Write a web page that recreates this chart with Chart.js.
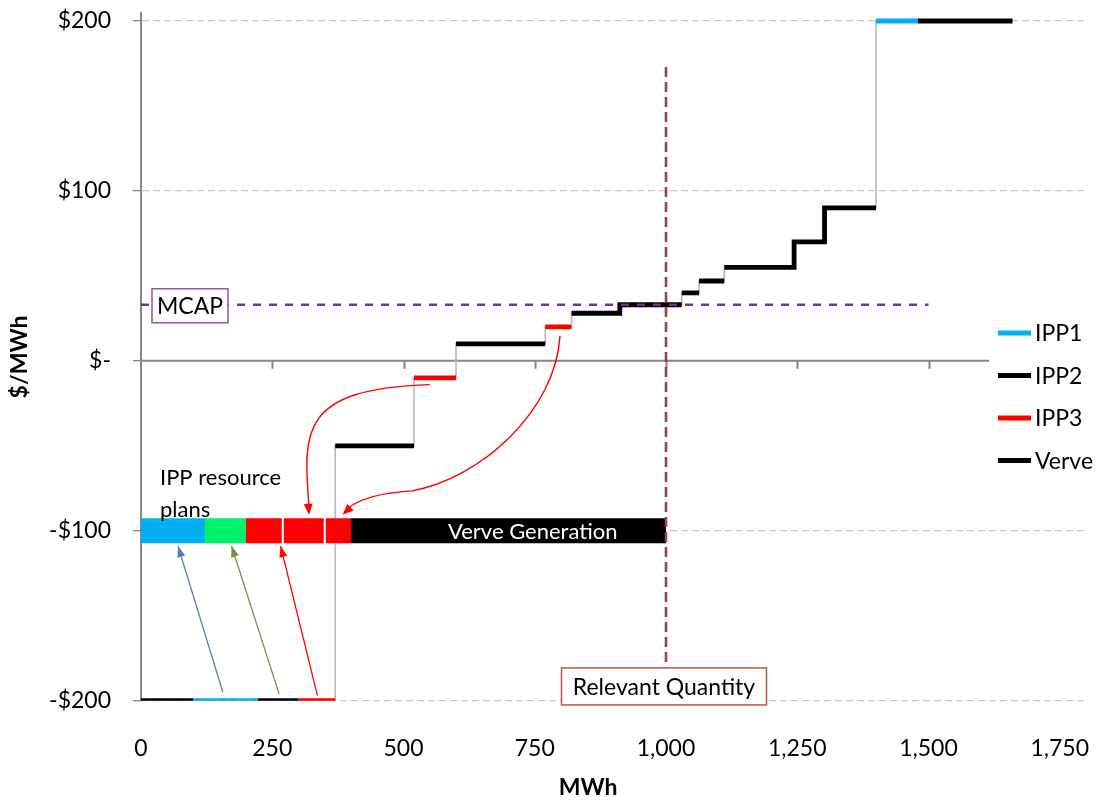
<!DOCTYPE html>
<html>
<head>
<meta charset="utf-8">
<title>Offer stack</title>
<script src="https://cdn.jsdelivr.net/npm/chart.js@4"></script>
<style>
  html, body { margin: 0; padding: 0; background: #fff; }
</style>
</head>
<body>
<canvas id="chart" width="1097" height="800"></canvas>
<script>
// offer blocks, in merit order (MWh, $/MWh)
const blockFrom  = [0, 100, 222, 300, 370, 520, 600, 770, 820, 912, 1030, 1063, 1111, 1244, 1302, 1400, 1480];
const blockTo    = [100, 222, 300, 370, 520, 600, 770, 820, 912, 1030, 1063, 1111, 1244, 1302, 1400, 1480, 1660];
const blockPrice = [-200, -200, -200, -200, -50, -10, 10, 20, 28, 33, 40, 47, 55, 70, 90, 200, 200];
const blockOwner = ['Verve', 'IPP1', 'IPP2', 'IPP3', 'Verve', 'IPP3', 'Verve', 'IPP3', 'Verve', 'Verve',
                    'IPP2', 'IPP2', 'Verve', 'Verve', 'Verve', 'IPP1', 'IPP2'];

// the resource plan bar drawn at -$100
const planEdges = [0, 122, 200, 270, 350, 400, 1000];
const planOwner = ['IPP1', 'IPP2plan', 'IPP3', 'IPP3', 'IPP3', 'Verve'];
const planPrice = -100;

const seriesNames = ['IPP1', 'IPP2', 'IPP3', 'Verve'];
const mcapPrice = 33;
const mcapEnd = 1500;
const relevantQty = 1000;
const rqTop = 173;
const rqBottom = -181;

const xTicks = [0, 250, 500, 750, 1000, 1250, 1500, 1750];
const yTicks = [-200, -100, 0, 100, 200];

const colors = { IPP1: '#00B0F0', IPP2: '#000000', IPP2plan: '#00F26D', IPP3: '#FF0000', Verve: '#000000' };
const FONT = 'Lato, "Open Sans", sans-serif';

function seriesPoints(owner) {
  const pts = [];
  for (let i = 0; i < blockFrom.length; i++) {
    if (blockOwner[i] !== owner) continue;
    const last = pts[pts.length - 1];
    // Verve blocks that touch are drawn as one stepped line
    if (last && !(owner === 'Verve' && last.x === blockFrom[i])) pts.push({ x: last.x, y: null });
    pts.push({ x: blockFrom[i], y: blockPrice[i] }, { x: blockTo[i], y: blockPrice[i] });
  }
  return pts;
}

const supplyCurve = [];
blockFrom.forEach((f, i) => {
  supplyCurve.push({ x: f, y: blockPrice[i] }, { x: blockTo[i], y: blockPrice[i] });
});

const datasets = seriesNames.map((name, i) => ({
  label: name,
  data: seriesPoints(name),
  borderColor: colors[name],
  borderWidth: 4.8,
  borderCapStyle: 'butt',
  borderJoinStyle: 'miter',
  pointRadius: 0,
  spanGaps: false,
  order: 2 + i
}));

datasets.push({
  label: 'curve',
  data: supplyCurve,
  borderColor: '#B8B8B8',
  borderWidth: 1.6,
  pointRadius: 0,
  order: 20
});

datasets.push({
  label: 'plans',
  data: planEdges.map(x => ({ x: x, y: planPrice })),
  borderWidth: 25,
  borderCapStyle: 'butt',
  borderColor: colors.IPP1,
  segment: { borderColor: ctx => colors[planOwner[ctx.p0DataIndex]] },
  pointRadius: 0,
  order: 10
});

datasets.push({
  label: 'MCAP',
  data: [{ x: 0, y: mcapPrice }, { x: mcapEnd, y: mcapPrice }],
  borderColor: '#7030A0',
  borderWidth: 2.6,
  borderDash: [8, 8],
  pointRadius: 0,
  order: 1
});

datasets.push({
  label: 'Relevant Quantity',
  data: [{ x: relevantQty, y: rqTop }, { x: relevantQty, y: rqBottom }],
  borderColor: '#A0403F',
  borderWidth: 2.6,
  borderDash: [10, 5],
  pointRadius: 0,
  order: 0
});

function fmtPrice(v) {
  if (v === 0) return '$-';
  return v < 0 ? '-$' + Math.abs(v) : '$' + v;
}

function arrowHead(ctx, fx, fy, tx, ty, len, wid, color) {
  const a = Math.atan2(ty - fy, tx - fx);
  ctx.save();
  ctx.fillStyle = color;
  ctx.beginPath();
  ctx.moveTo(tx, ty);
  ctx.lineTo(tx - len * Math.cos(a) + wid / 2 * Math.sin(a), ty - len * Math.sin(a) - wid / 2 * Math.cos(a));
  ctx.lineTo(tx - len * Math.cos(a) - wid / 2 * Math.sin(a), ty - len * Math.sin(a) + wid / 2 * Math.cos(a));
  ctx.closePath();
  ctx.fill();
  ctx.restore();
}

function boxLabel(ctx, text, cx, cy, w, h, border) {
  ctx.save();
  ctx.fillStyle = '#fff';
  ctx.fillRect(cx - w / 2, cy - h / 2, w, h);
  ctx.strokeStyle = border;
  ctx.lineWidth = 1.5;
  ctx.strokeRect(cx - w / 2, cy - h / 2, w, h);
  ctx.fillStyle = '#000';
  ctx.font = '23px ' + FONT;
  ctx.textAlign = 'center';
  ctx.textBaseline = 'middle';
  ctx.fillText(text, cx, cy + 1);
  ctx.restore();
}

const noPad = s => { s.paddingTop = 0; s.paddingBottom = 0; s.paddingLeft = 0; s.paddingRight = 0; };

const decor = {
  id: 'decor',
  beforeDatasetsDraw(chart) {
    const { ctx, chartArea: a, scales: { x, y } } = chart;
    const y0 = y.getPixelForValue(0);
    ctx.save();
    ctx.strokeStyle = '#868686';
    ctx.lineWidth = 2;
    ctx.beginPath();
    ctx.moveTo(a.left, y0);
    ctx.lineTo(a.right, y0);
    xTicks.forEach(v => {
      if (v === 0) return;
      const px = Math.round(x.getPixelForValue(v)) + 0.5;
      ctx.moveTo(px, y0);
      ctx.lineTo(px, y0 + 8);
    });
    ctx.stroke();
    ctx.restore();
  },
  afterDatasetsDraw(chart) {
    const { ctx, scales: { x, y } } = chart;
    const P = (mx, my) => [x.getPixelForValue(mx), y.getPixelForValue(my)];

    // white gaps between the IPP3 pieces of the plan bar
    ctx.save();
    ctx.strokeStyle = '#fff';
    ctx.lineWidth = 2;
    [planEdges[3], planEdges[4]].forEach(v => {
      const [px, py] = P(v, planPrice);
      ctx.beginPath();
      ctx.moveTo(px, py - 13);
      ctx.lineTo(px, py + 13);
      ctx.stroke();
    });
    ctx.restore();

    // straight arrows from the low blocks up to the plan bar
    const straight = [
      [[156, -195], [70.5, -109], '#4F81BD'],
      [[263, -196], [172.5, -109], '#77933C'],
      [[336, -197], [266, -109], '#FF0000']
    ];
    straight.forEach(([f, t, c]) => {
      const [fx, fy] = P(f[0], f[1]);
      const [tx, ty] = P(t[0], t[1]);
      ctx.save();
      ctx.strokeStyle = c;
      ctx.lineWidth = 1.3;
      ctx.beginPath();
      ctx.moveTo(fx, fy);
      ctx.lineTo(tx, ty);
      ctx.stroke();
      ctx.restore();
      arrowHead(ctx, fx, fy, tx, ty, 11, 8, c);
    });

    // curved arrows from the IPP3 blocks down to the plan bar
    ctx.save();
    ctx.strokeStyle = '#FF0000';
    ctx.lineWidth = 1.4;
    let p0 = P(550, -14), p1 = P(303, -16.5), p2 = P(308.5, -41), p3 = P(320, -90.6);
    ctx.beginPath();
    ctx.moveTo(p0[0], p0[1]);
    ctx.bezierCurveTo(p1[0], p1[1], p2[0], p2[1], p3[0], p3[1] - 8);
    ctx.stroke();
    arrowHead(ctx, p2[0], p2[1], p3[0], p3[1], 11, 9, '#FF0000');

    const q0 = P(798, 14.7), q1 = P(790.5, -29.4), q2 = P(645.5, -69.4), q3 = P(516, -76.5),
          q4 = P(426.6, -78.2), q5 = P(383.8, -90.6);
    ctx.beginPath();
    ctx.moveTo(q0[0], q0[1]);
    ctx.bezierCurveTo(q1[0], q1[1], q2[0], q2[1], q3[0], q3[1]);
    ctx.quadraticCurveTo(q4[0], q4[1], q5[0] + 5, q5[1] - 6);
    ctx.stroke();
    ctx.restore();
    arrowHead(ctx, q4[0], q4[1], q5[0], q5[1], 11, 9, '#FF0000');

    // texts on and near the plan bar
    ctx.save();
    ctx.font = '22px ' + FONT;
    ctx.textBaseline = 'middle';
    ctx.fillStyle = '#000';
    ctx.textAlign = 'left';
    ctx.fillText('IPP resource', 160, 478);
    ctx.fillText('plans', 160, 510);
    ctx.fillStyle = '#fff';
    ctx.textAlign = 'center';
    const [vx, vy] = P(750, planPrice);
    ctx.fillText('Verve Generation', vx - 2, vy + 1);
    ctx.restore();

    // callout boxes
    const [mx, my] = P(0, mcapPrice);
    boxLabel(ctx, 'MCAP', mx + 49, my + 1, 76, 34, '#8A55B8');
    const [rx, ry] = P(relevantQty, rqBottom);
    boxLabel(ctx, 'Relevant Quantity', rx - 2, ry + 18, 205, 37, '#B35555');

    // legend on a white panel
    const lx = 998, ly = 333, step = 42.5;
    ctx.save();
    ctx.fillStyle = '#fff';
    ctx.fillRect(989, 312, 108, 170);
    ctx.font = '23px ' + FONT;
    ctx.textBaseline = 'middle';
    ctx.textAlign = 'left';
    seriesNames.forEach((name, i) => {
      const yy = ly + i * step;
      ctx.strokeStyle = colors[name];
      ctx.lineWidth = 5;
      ctx.beginPath();
      ctx.moveTo(lx, yy);
      ctx.lineTo(lx + 33, yy);
      ctx.stroke();
      ctx.fillStyle = '#000';
      ctx.fillText(name, lx + 37, yy + 1);
    });

    // axis titles
    ctx.font = 'bold 23px ' + FONT;
    ctx.textAlign = 'center';
    ctx.fillText('MWh', 588, 788);
    ctx.translate(20, 357);
    ctx.rotate(-Math.PI / 2);
    ctx.fillText('$/MWh', 0, 0);
    ctx.restore();
  }
};

new Chart(document.getElementById('chart'), {
  type: 'line',
  data: { datasets: datasets },
  options: {
    responsive: false,
    animation: false,
    layout: { padding: { top: 12.5, right: 11, left: 0, bottom: 0 } },
    plugins: { legend: { display: false }, tooltip: { enabled: false } },
    scales: {
      x: {
        type: 'linear',
        min: 0,
        max: 1800,
        afterBuildTicks: s => { s.ticks = xTicks.map(v => ({ value: v })); },
        ticks: {
          callback: v => v.toLocaleString('en-US'),
          font: { family: FONT, size: 23 },
          color: '#000',
          padding: 34,
          maxRotation: 0,
          autoSkip: false
        },
        grid: { display: false, drawTicks: false },
        border: { display: false },
        afterFit: s => { s.height = 99.3; noPad(s); }
      },
      y: {
        type: 'linear',
        min: -200,
        max: 205,
        afterBuildTicks: s => { s.ticks = yTicks.map(v => ({ value: v })); },
        ticks: {
          callback: v => fmtPrice(v),
          font: { family: FONT, size: 23 },
          color: '#000',
          padding: 22
        },
        grid: {
          color: ctx => (ctx.tick && ctx.tick.value === 0 ? 'rgba(0,0,0,0)' : '#C9C9C9'),
          tickColor: '#868686',
          tickLength: 8,
          lineWidth: 1.3
        },
        border: { display: true, color: '#868686', width: 2, dash: [7, 4] },
        afterFit: s => { s.width = 141; noPad(s); }
      }
    }
  },
  plugins: [decor]
});
</script>
</body>
</html>
